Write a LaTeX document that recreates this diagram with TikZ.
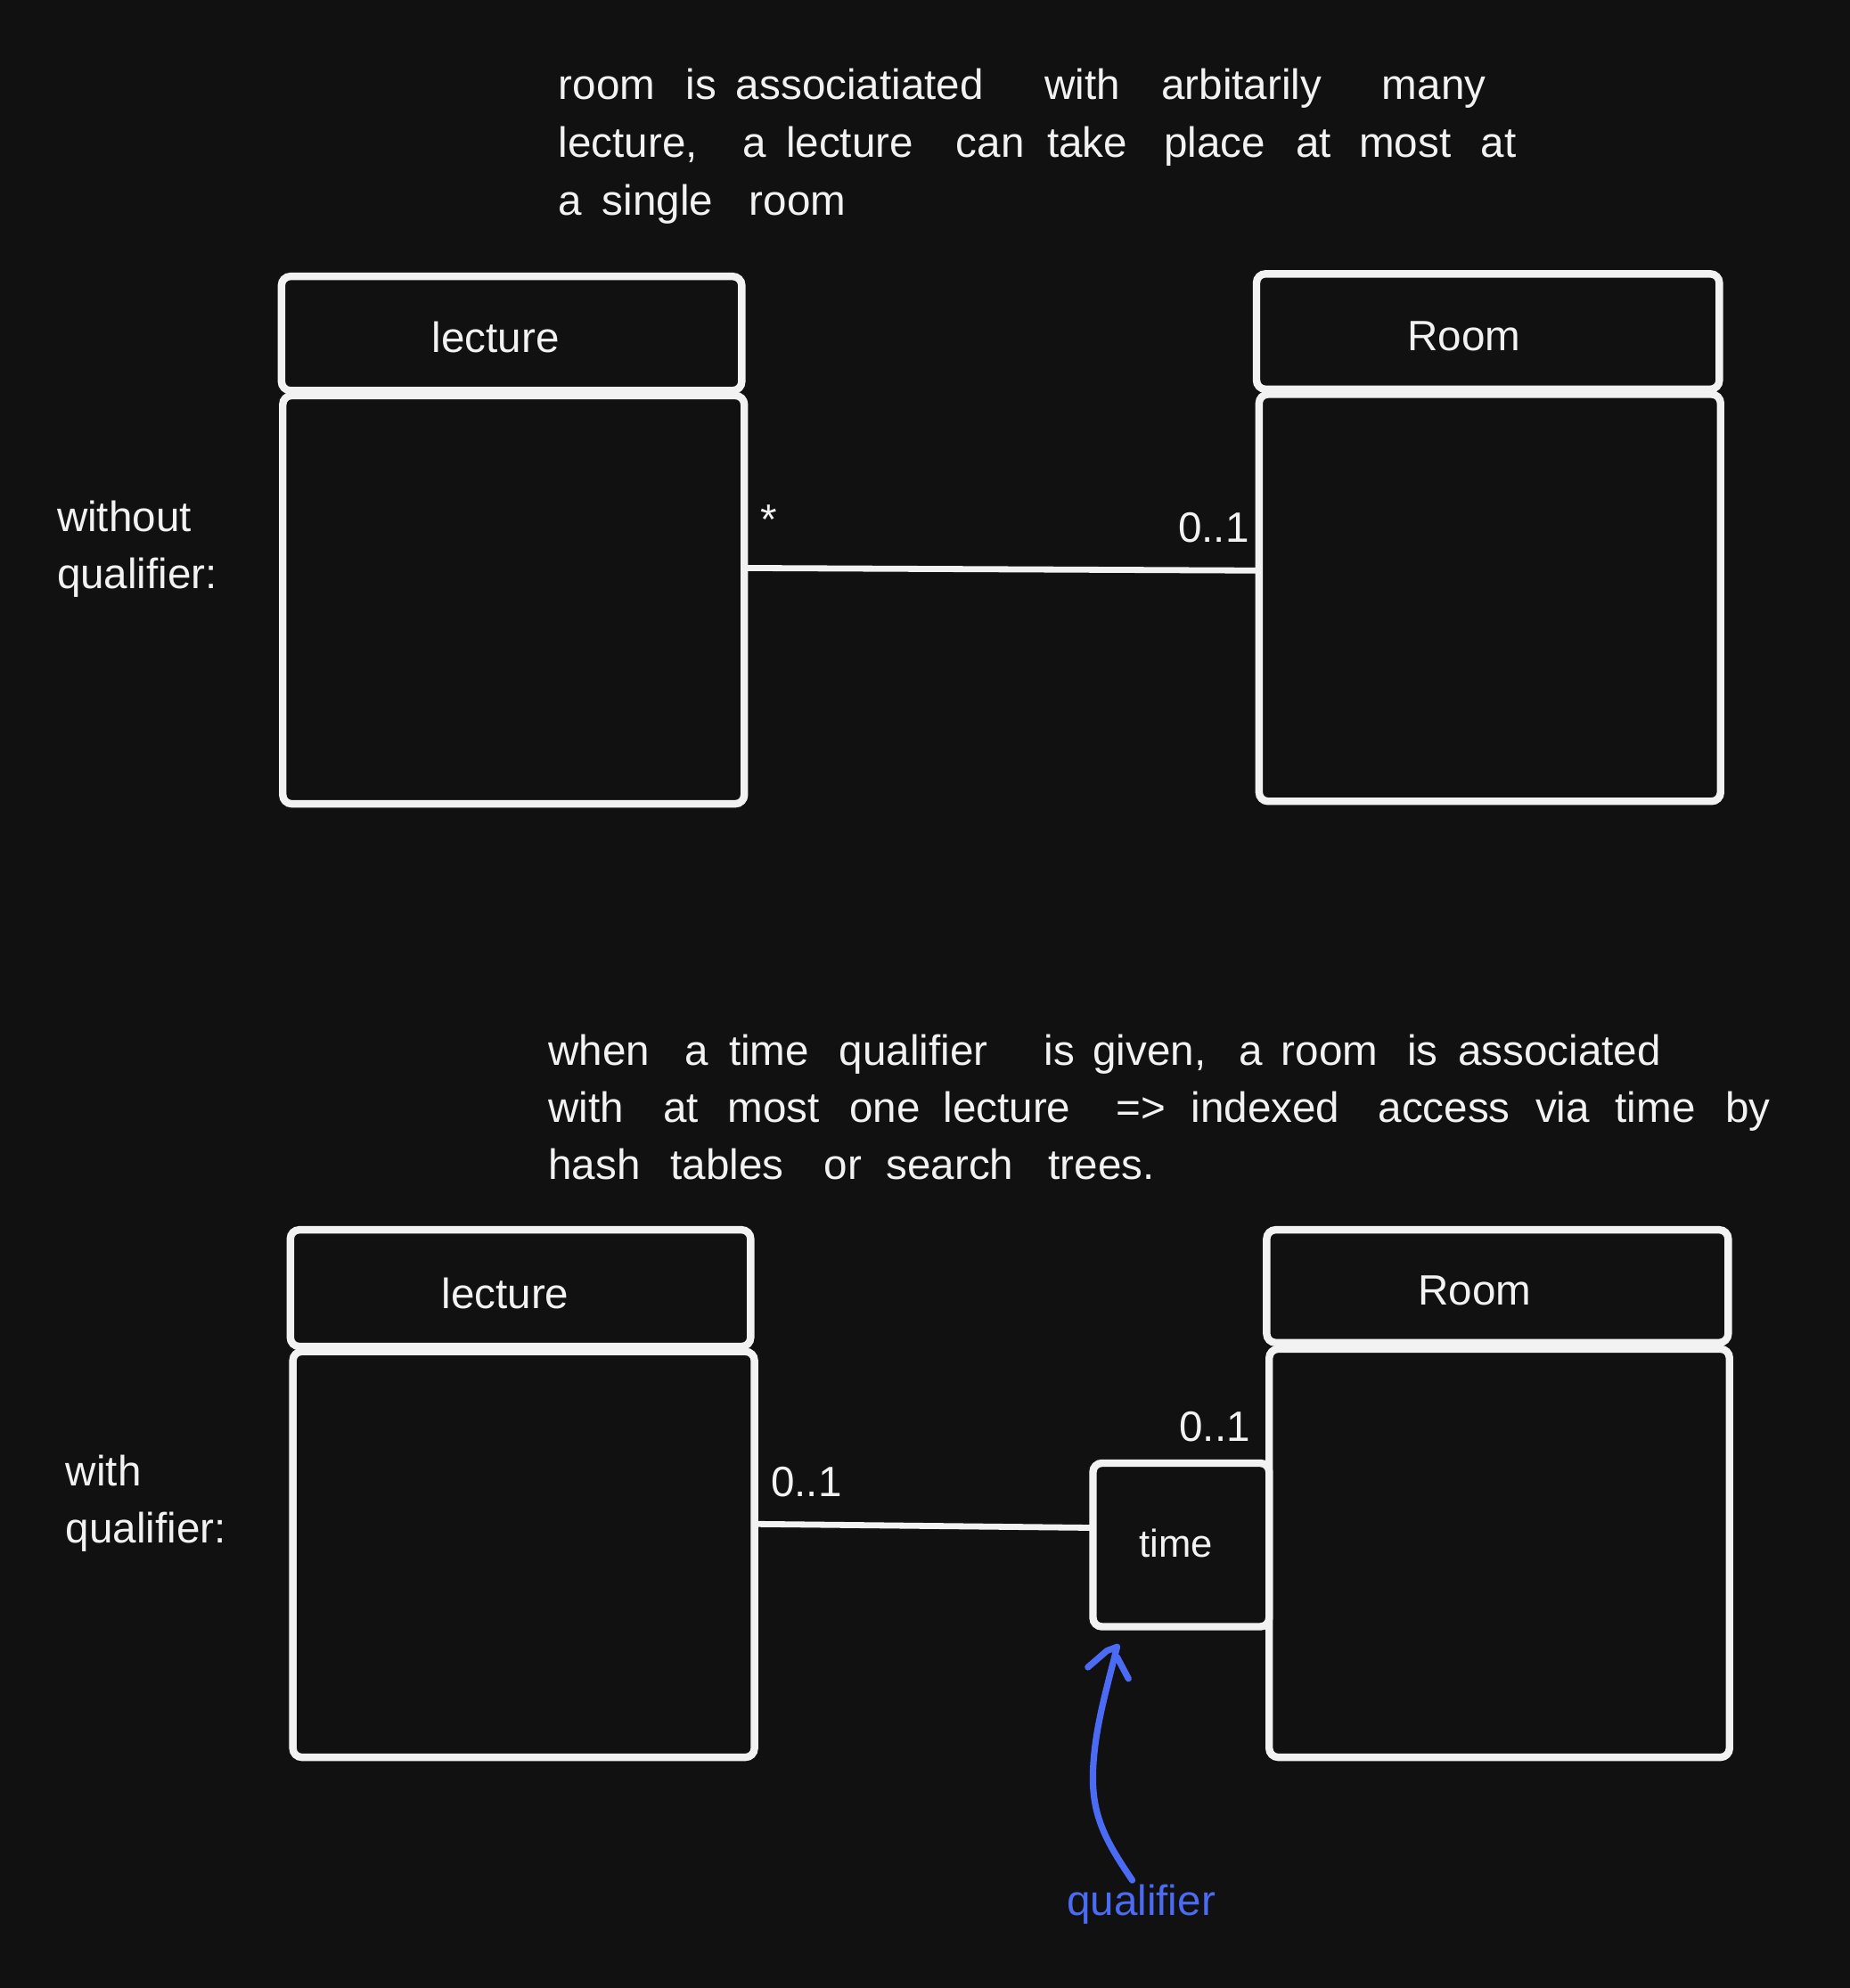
\documentclass[tikz,border=0pt]{standalone}
\usepackage{fontspec}
\setmainfont{Liberation Sans}
\definecolor{bg}{HTML}{111111}
\definecolor{ink}{HTML}{F2F2F2}
\definecolor{blu}{HTML}{4B6BF5}
\begin{document}
\begin{tikzpicture}[x=0.71145pt,y=-0.71145pt,
  umlbox/.style 2 args={draw=ink, line width=4.2pt, rounded corners=5pt,
    minimum width=#1*0.71145pt, minimum height=#2*0.71145pt, inner sep=0pt, outer sep=0pt},
  conn/.style={draw=ink, line width=3.4pt},
  txt/.style={text=ink, inner sep=0pt, outer sep=0pt, font=\fontsize{23.8}{28}\selectfont},
  smalltxt/.style={text=ink, inner sep=0pt, outer sep=0pt, font=\fontsize{21.8}{26}\selectfont},
  wrd/.style={txt, anchor=base west},
  bluetxt/.style={text=blu, inner sep=0pt, font=\fontsize{23.8}{28}\selectfont}]
\fill[bg] (0,0) rectangle (1459,1568);
\useasboundingbox (0,0) rectangle (1459,1568);

% ---------- top description ----------
\node[wrd] (t1a) at (440.5,78.5) {room};
\node[wrd] (t1b) at (541,78.5) {is};
\node[wrd] (t1c) at (580.5,78.5) {associatiated};
\node[wrd] (t1d) at (824,78.5) {with};
\node[wrd] (t1e) at (916,78.5) {arbitarily};
\node[wrd] (t1f) at (1090,78.5) {many};
\node[wrd] (t2a) at (440.5,124) {lecture,};
\node[wrd] (t2b) at (585.5,124) {a};
\node[wrd] (t2c) at (620,124) {lecture};
\node[wrd] (t2d) at (754,124) {can};
\node[wrd] (t2e) at (826,124) {take};
\node[wrd] (t2f) at (918,124) {place};
\node[wrd] (t2g) at (1022,124) {at};
\node[wrd] (t2h) at (1072,124) {most};
\node[wrd] (t2i) at (1168,124) {at};
\node[wrd] (t3a) at (440.5,169.5) {a};
\node[wrd] (t3b) at (475,169.5) {single};
\node[wrd] (t3c) at (591,169.5) {room};

% ---------- top diagram ----------
\node[umlbox={363}{90}] (lec1h) at (403.5,263) {};
\node[txt] (lec1t) at (391,266) {lecture};
\node[umlbox={364}{322}] (lec1b) at (405,473) {};
\node[umlbox={365}{91}] (room1h) at (1173.5,261.5) {};
\node[txt] (room1t) at (1154.5,265) {Room};
\node[umlbox={364}{321}] (room1b) at (1175,471.5) {};
\draw[conn] ([yshift=25*0.71145pt]lec1b.east) -- ([yshift=21.5*0.71145pt]room1b.west);
\node[txt] (star) at (606.5,410) {*};
\node[txt, anchor=east] (m1) at (985,416) {0..1};

\node[wrd] (wo1) at (45,419) {without};
\node[wrd] (wo2) at (45,464) {qualifier:};

% ---------- bottom description ----------
\node[wrd] (b1a) at (432.5,840) {when};
\node[wrd] (b1b) at (540,840) {a};
\node[wrd] (b1c) at (575,840) {time};
\node[wrd] (b1d) at (662,840) {qualifier};
\node[wrd] (b1e) at (823.5,840) {is};
\node[wrd] (b1f) at (862,840) {given,};
\node[wrd] (b1g) at (977,840) {a};
\node[wrd] (b1h) at (1010.5,840) {room};
\node[wrd] (b1i) at (1110,840) {is};
\node[wrd] (b1j) at (1150,840) {associated};
\node[wrd] (b2a) at (432.5,885) {with};
\node[wrd] (b2b) at (523,885) {at};
\node[wrd] (b2c) at (574,885) {most};
\node[wrd] (b2d) at (670,885) {one};
\node[wrd] (b2e) at (744,885) {lecture};
\node[wrd] (b2f) at (880.5,885) {=>};
\node[wrd] (b2g) at (939.5,885) {indexed};
\node[wrd] (b2h) at (1087,885) {access};
\node[wrd] (b2i) at (1211,885) {via};
\node[wrd] (b2j) at (1274,885) {time};
\node[wrd] (b2k) at (1361,885) {by};
\node[wrd] (b3a) at (432.5,930.5) {hash};
\node[wrd] (b3b) at (529,930.5) {tables};
\node[wrd] (b3c) at (650,930.5) {or};
\node[wrd] (b3d) at (699,930.5) {search};
\node[wrd] (b3e) at (827,930.5) {trees.};

% ---------- bottom diagram ----------
\node[umlbox={363}{92}] (lec2h) at (410.5,1016) {};
\node[txt] (lec2t) at (398.5,1020) {lecture};
\node[umlbox={364}{320}] (lec2b) at (413,1226) {};
\node[umlbox={364}{89}] (room2h) at (1181,1014.5) {};
\node[txt] (room2t) at (1163,1018) {Room};
\node[umlbox={363}{322}] (room2b) at (1182.5,1225) {};
\node[umlbox={139}{129}, fill=bg] (time) at (931.5,1218.5) {};
\node[smalltxt] (timet) at (927.5,1217) {time};
\draw[conn] ([yshift=24*0.71145pt]lec2b.east) -- ([yshift=13.5*0.71145pt]time.west);
\node[txt, anchor=west] (m2) at (608,1169) {0..1};
\node[txt, anchor=east] (m3) at (986,1125) {0..1};

\node[wrd] (wq1) at (52,1172) {with};
\node[wrd] (wq2) at (52,1217) {qualifier:};

% ---------- qualifier annotation ----------
\node[bluetxt] (qual) at (900,1502) {qualifier};
\coordinate (qstart) at (893,1483);
\coordinate (qtip) at (881,1299);
\draw[blu, line width=3.6pt, line cap=round, line join=round]
  (qstart) .. controls (872,1452) and (861,1432) .. (862,1398)
  .. controls (863,1365) and (872,1335) .. (qtip);
\draw[blu, line width=3.6pt, line cap=round, line join=round]
  (qtip) -- (873,1302) -- (858,1315);
\draw[blu, line width=3.6pt, line cap=round, line join=round]
  ([yshift=-8*0.71145pt]qtip) -- (890,1324);
\end{tikzpicture}
\end{document}
